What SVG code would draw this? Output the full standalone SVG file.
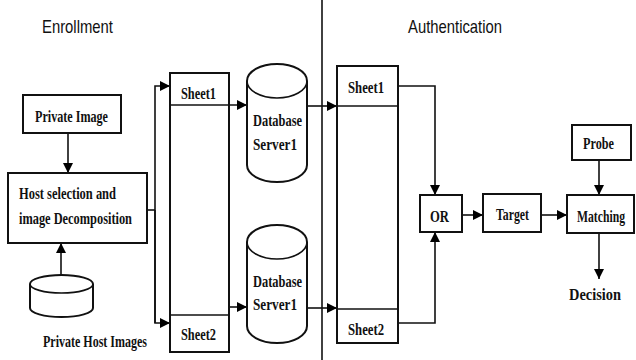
<svg xmlns="http://www.w3.org/2000/svg" width="636" height="360" viewBox="0 0 636 360">
<defs>
<marker id="ah" markerUnits="userSpaceOnUse" markerWidth="10" markerHeight="10" refX="10" refY="5" orient="auto">
<path d="M0,0 L10,5 L0,10 z" fill="#000"/>
</marker>
<style>
.box{fill:#fff;stroke:#111;stroke-width:2}
.cyl{fill:#fff;stroke:#111;stroke-width:2}
.ln{fill:none;stroke:#111;stroke-width:1.6}
.ar{fill:none;stroke:#111;stroke-width:1.6;marker-end:url(#ah)}
.t{font-family:"Liberation Serif",serif;font-weight:bold;font-size:17.5px;fill:#111}
.h{font-family:"Liberation Sans",sans-serif;font-size:19px;fill:#111}
</style>
</defs>
<rect width="636" height="360" fill="#fff"/>
<text class="h" x="42" y="33" textLength="71" lengthAdjust="spacingAndGlyphs">Enrollment</text>
<text class="h" x="408" y="33" textLength="94" lengthAdjust="spacingAndGlyphs">Authentication</text>
<line class="ln" x1="322" y1="0" x2="322" y2="360"/>
<g id="connectors">
<line class="ar" x1="68" y1="133" x2="68" y2="173"/>
<line class="ar" x1="61" y1="276" x2="61" y2="243"/>
<polyline class="ln" points="147,210 155,210"/>
<polyline class="ar" points="155,323 155,86 170,86"/>
<polyline class="ar" points="155,210 155,323 170,323"/>
<line class="ar" x1="170" y1="105" x2="247" y2="105"/>
<line class="ar" x1="229" y1="307" x2="247" y2="307"/>
<line class="ar" x1="307" y1="106" x2="337" y2="106"/>
<line class="ar" x1="307" y1="308" x2="337" y2="308"/>
<polyline class="ar" points="398,86 435,86 435,195"/>
<polyline class="ar" points="398,323 435,323 435,232"/>
<line class="ar" x1="462" y1="215" x2="483" y2="215"/>
<line class="ar" x1="541" y1="215" x2="567" y2="215"/>
<line class="ar" x1="599" y1="161" x2="599" y2="195"/>
<line class="ar" x1="599" y1="233" x2="599" y2="279"/>
</g>
<g id="private-image">
<rect class="box" x="23" y="95" width="98" height="38"/>
<text class="t" x="35" y="122" textLength="73" lengthAdjust="spacingAndGlyphs">Private Image</text>
</g>
<g id="host-selection">
<rect class="box" x="8" y="173" width="139" height="70"/>
<text class="t" x="19" y="199" textLength="97" lengthAdjust="spacingAndGlyphs">Host selection and</text>
<text class="t" x="19" y="224" textLength="113" lengthAdjust="spacingAndGlyphs">image Decomposition</text>
</g>
<g id="private-host-images">
<path class="cyl" d="M30,284 A31.5,9 0 0 1 93,284 L93,308 A31.5,9 0 0 1 30,308 Z"/>
<path class="ln" d="M30,284 A31.5,9 0 0 0 93,284"/>
<text class="t" x="43" y="347" textLength="104" lengthAdjust="spacingAndGlyphs">Private Host Images</text>
</g>
<g id="enroll-sheets">
<rect class="box" x="170" y="73" width="59" height="279"/>
<line class="ln" x1="170" y1="105" x2="229" y2="105"/>
<line class="ln" x1="170" y1="315" x2="229" y2="315"/>
<text class="t" x="181" y="99" textLength="35" lengthAdjust="spacingAndGlyphs">Sheet1</text>
<text class="t" x="181" y="340" textLength="35" lengthAdjust="spacingAndGlyphs">Sheet2</text>
</g>
<g id="db-server-1">
<path class="cyl" d="M247,81 A30,17 0 0 1 307,81 L307,165 A30,17 0 0 1 247,165 Z"/>
<path class="ln" d="M247,81 A30,17 0 0 0 307,81"/>
<text class="t" x="253" y="126" textLength="49" lengthAdjust="spacingAndGlyphs">Database</text>
<text class="t" x="253" y="150" textLength="44" lengthAdjust="spacingAndGlyphs">Server1</text>
</g>
<g id="db-server-2">
<path class="cyl" d="M247,242 A30,17 0 0 1 307,242 L307,326 A30,17 0 0 1 247,326 Z"/>
<path class="ln" d="M247,242 A30,17 0 0 0 307,242"/>
<text class="t" x="253" y="287" textLength="49" lengthAdjust="spacingAndGlyphs">Database</text>
<text class="t" x="253" y="310" textLength="44" lengthAdjust="spacingAndGlyphs">Server1</text>
</g>
<g id="auth-sheets">
<rect class="box" x="337" y="66" width="61" height="277"/>
<line class="ln" x1="337" y1="106" x2="398" y2="106"/>
<line class="ln" x1="337" y1="309" x2="398" y2="309"/>
<text class="t" x="348" y="93" textLength="36" lengthAdjust="spacingAndGlyphs">Sheet1</text>
<text class="t" x="348" y="335" textLength="36" lengthAdjust="spacingAndGlyphs">Sheet2</text>
</g>
<g id="or">
<rect class="box" x="420" y="195" width="42" height="37"/>
<text class="t" x="430" y="222" textLength="19" lengthAdjust="spacingAndGlyphs">OR</text>
</g>
<g id="target">
<rect class="box" x="483" y="194" width="58" height="38"/>
<text class="t" x="496" y="220" textLength="33" lengthAdjust="spacingAndGlyphs">Target</text>
</g>
<g id="probe">
<rect class="box" x="572" y="125" width="59" height="35"/>
<text class="t" x="583" y="149" textLength="31" lengthAdjust="spacingAndGlyphs">Probe</text>
</g>
<g id="matching">
<rect class="box" x="567" y="195" width="67" height="38"/>
<text class="t" x="577" y="222" textLength="48" lengthAdjust="spacingAndGlyphs">Matching</text>
</g>
<g id="decision">
<text class="t" x="569" y="300" font-size="20" textLength="52" lengthAdjust="spacingAndGlyphs">Decision</text>
</g>
</svg>
